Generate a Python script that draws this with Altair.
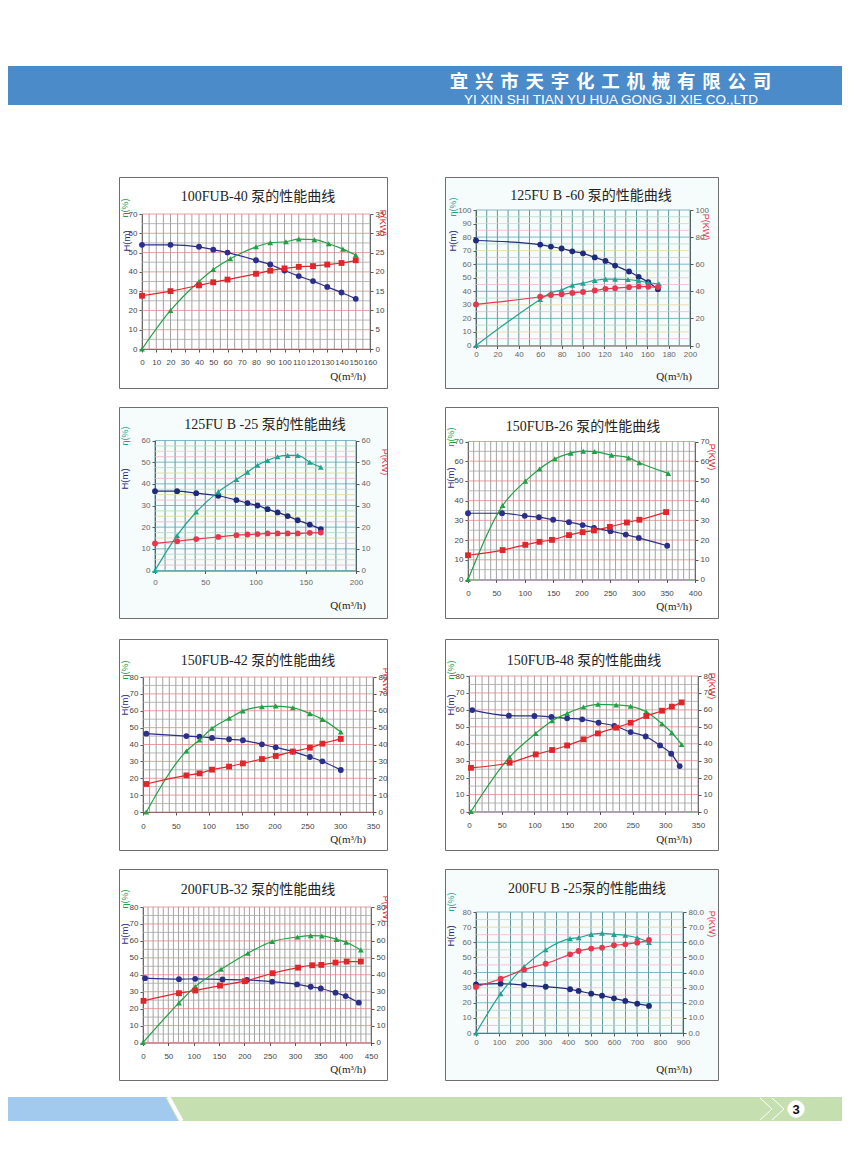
import altair as alt
import pandas as pd

# ---------------- data ----------------
COMPANY_CN = "宜兴市天宇化工机械有限公司"
COMPANY_EN = "YI XIN SHI TIAN YU HUA GONG JI XIE  CO.,LTD"
PAGE_NO = "3"
TITLES = ["100FUB-40 泵的性能曲线", "125FU B -60  泵的性能曲线",
          "125FU B -25  泵的性能曲线", "150FUB-26 泵的性能曲线",
          "150FUB-42 泵的性能曲线", "150FUB-48 泵的性能曲线",
          "200FUB-32 泵的性能曲线", "200FU B -25泵的性能曲线"]
LBL_ETA, LBL_H, LBL_P, LBL_Q = "η(%)", "H(m)", "P(KW)", "Q(m³/h)"

# panel 1: 100FUB-40
P1_Q = [0, 20, 40, 50, 60, 80, 90, 100, 110, 120, 130, 140, 150]
P1_H = [54, 54, 53, 51.5, 50, 46, 43.8, 40.7, 37.8, 35.2, 32.2, 29.3, 26]
P1_QE = [0, 20, 40, 50, 62, 80, 90, 101, 110, 121, 131, 141, 150]
P1_E = [0, 20, 35, 41.2, 46.8, 53, 55.1, 55.6, 57, 56.7, 54.6, 51.8, 48.7]
P1_P = [13.8, 15, 16.5, 17.3, 18, 19.5, 20.3, 20.9, 21.3, 21.5, 21.9, 22.3, 23]
# panel 2: 125FUB-60
P2_Q = [0, 60, 70, 80, 90, 100, 111, 121, 130, 143, 152, 161, 170]
P2_H = [77.5, 74.5, 73, 71.6, 69.5, 68, 65, 62.4, 59, 54.6, 50.7, 46.7, 41.6]
P2_QE = [0, 60, 70, 80, 90, 100, 111, 121, 130, 142, 152, 161, 171]
P2_E = [0, 34, 39, 41, 44.5, 46, 48, 49, 49, 48.7, 47.7, 46.3, 45.5]
P2_P = [30.3, 36, 37.2, 37.8, 38.8, 39.5, 40.6, 41.8, 42.3, 43, 43.5, 43.3, 43.1]
# panel 3: 125FUB-25
P3_Q = [0, 22, 41, 63, 81, 92, 102, 112, 122, 132, 142, 154, 165]
P3_H = [36.6, 36.6, 35.7, 34.5, 32.5, 31.1, 30, 28.3, 26.8, 25.1, 23.2, 21.2, 19.1]
P3_E = [0, 16.2, 27, 36.3, 42, 45.4, 48.6, 50.8, 52.5, 53.1, 53.1, 50, 47.7]
P3_P = [12.5, 13.5, 14.5, 15.5, 16.3, 16.6, 16.8, 17.1, 17.1, 17.1, 17.1, 17.4, 17.5]
# panel 4: 150FUB-26
P4_Q = [0, 60, 100, 125, 150, 178, 202, 222, 251, 278, 301, 351]
P4_H = [33.6, 33.6, 32.3, 31.6, 30.3, 29.1, 27.6, 26.2, 24.5, 22.8, 21.1, 17.1]
P4_QE = [0, 61, 101, 126, 153, 181, 203, 223, 253, 283, 302, 353]
P4_E = [0, 37.5, 49.9, 56.1, 61.2, 64.1, 65.1, 64.9, 63.1, 61.7, 59.2, 53.8]
P4_QP = [0, 61, 101, 126, 148, 178, 202, 222, 250, 280, 302, 349]
P4_P = [12.3, 14.9, 17.6, 19.1, 20.1, 22.5, 24, 24.9, 26.7, 28.9, 30.3, 34.2]
# panel 5: 150FUB-42
P5_Q = [5, 66, 86, 105, 131, 152, 181, 202, 228, 254, 273, 301]
P5_H = [46.4, 45, 44.6, 43.9, 43.1, 42.5, 40.1, 38.3, 35.8, 32.6, 30, 24.9]
P5_E = [0, 36.1, 42.7, 49.6, 55.5, 59.9, 62.4, 62.8, 61.8, 58.3, 54.9, 47.4]
P5_P = [16.6, 21.7, 22.9, 25.1, 26.9, 28.8, 31.4, 33.2, 35.8, 38.1, 40.5, 43.3]
# panel 6: 150FUB-48
P6_Q = [5, 61, 100, 126, 150, 173, 198, 222, 247, 270, 292, 309, 322]
P6_H = [59.9, 56.6, 56.4, 55.8, 55, 54.4, 52.4, 50.6, 46.9, 44.3, 39, 34.1, 26.8]
P6_QE = [3, 62, 102, 127, 150, 175, 197, 225, 247, 271, 295, 310, 325]
P6_E = [0, 32.1, 46.1, 53.6, 57.9, 61.7, 63.3, 62.9, 62.1, 58.9, 51.8, 46.5, 39.6]
P6_P = [25.8, 28.8, 33.7, 36.3, 39, 42.6, 46.1, 49.5, 52.4, 56.4, 59.5, 61.9, 64.4]
# panel 7: 200FUB-32
P7_Q = [4, 71, 103, 157, 205, 255, 304, 331, 351, 380, 400, 426]
P7_H = [38, 37.4, 37.6, 37.2, 36.9, 35.9, 34.3, 32.9, 31.9, 29.4, 27.4, 23.5]
P7_QE = [0, 71, 103, 154, 207, 255, 305, 331, 353, 382, 401, 430]
P7_E = [0, 23.4, 33, 43.2, 52.7, 59.6, 62.3, 63.1, 62.9, 60.9, 59.2, 54.6]
P7_QP = [1, 71, 103, 152, 201, 256, 306, 334, 352, 380, 402, 430]
P7_P = [24.6, 29.1, 30.7, 33.6, 36.2, 40.9, 44.2, 45.6, 45.8, 47.2, 47.8, 47.8]
# panel 8: 200FUB-25
P8_Q = [0, 107, 209, 303, 409, 446, 501, 548, 600, 649, 701, 752]
P8_H = [32.2, 32.6, 31.7, 30.6, 28.9, 27.8, 26, 24.7, 22.9, 21.2, 19.4, 17.9]
P8_E = [0, 26, 43.9, 55.1, 62.4, 63, 65.2, 65.9, 65.2, 64.6, 63, 59.9]
P8_P = [30.4, 35.9, 41.9, 45.8, 52, 54.2, 55.8, 56.4, 58, 58.6, 59.7, 61.5]

# axis domains / tick labels
X_MAX = [160, 200, 200, 400, 350, 350, 450, 900]
X_STEP = [10, 20, 50, 50, 50, 50, 50, 100]
XGRID_STEP = [5, 10, 10, 10, 10, 10, 10, 50]
L_MAX = [70, 100, 60, 70, 80, 80, 80, 80]
L_STEP = [10, 10, 10, 10, 10, 10, 10, 10]
R_MAX = [35, 100, 60, 70, 80, 80, 80, 80]
R_STEP = [5, 20, 10, 10, 10, 10, 10, 10]
HGRID_STEP = [5, 5, 2.5, 5, 5, 5, 5, 5]

# ---------------- styling ----------------
SERIF = "Liberation Serif, Noto Sans CJK SC"
SANS = "Liberation Sans, Arial"
ONE = pd.DataFrame({"t": [""]})

STYLE = {
    "A": dict(h="#2b2e8a", e="#22a045", p="#e0262b", bg="white",
              vcol="#8a8a8a", hcols=("#e58686", "#a6a6a6"),
              pshape="square", lab="#444"),
    "B": dict(h="#1f2a7c", e="#1ea493", p="#e8364f", bg="#f6fbfb",
              vcol="#3f7c86", hcols=("#5faab8", "#f0b6c6", "#e3d898", "#b5dcc4"),
              pshape="circle", lab="#666"),
}


def frange(a, b, s):
    out, v = [], a
    while v <= b + 1e-9:
        out.append(round(v, 4))
        v += s
    return out


def make_panel(k, style, W, H, x0, x1, yb, yt, tpos, epos, hpos, ppos, qpos,
               lab_pad, series, rfmt="d"):
    st = STYLE[style]
    xs = alt.Scale(domain=[0, X_MAX[k]], range=[x0, x1], nice=False, zero=False)
    ls = alt.Scale(domain=[0, L_MAX[k]], range=[yb, yt], nice=False, zero=False)
    rs = alt.Scale(domain=[0, R_MAX[k]], range=[yb, yt], nice=False, zero=False)
    common = dict(grid=False, title=None, domainColor="#555", tickColor="#555",
                  tickSize=3, labelColor=st["lab"], labelFont=SANS, labelFontSize=8,
                  labelOverlap=False, labelFlush=False)
    xaxis = alt.Axis(orient="bottom", offset=-(H - yb), values=frange(0, X_MAX[k], X_STEP[k]),
                     format="d", labelPadding=lab_pad, **common)
    laxis = alt.Axis(orient="left", offset=-x0, values=frange(0, L_MAX[k], L_STEP[k]),
                     format="d", labelPadding=2, **common)
    raxis = alt.Axis(orient="right", offset=-(W - x1), values=frange(0, R_MAX[k], R_STEP[k]),
                     format=rfmt, labelPadding=2, **common)

    vv = frange(0, X_MAX[k], XGRID_STEP[k])
    vdf = pd.DataFrame({"v": vv, "c": [st["vcol"]] * len(vv)})
    hv = frange(0, L_MAX[k], HGRID_STEP[k])
    if style == "A":
        hc = [st["hcols"][0] if (v % 10 == 0) else st["hcols"][1] for v in hv]
    else:
        hc = [st["hcols"][i % len(st["hcols"])] for i in range(len(hv))]
    hdf = pd.DataFrame({"v": hv, "c": hc})

    layers = [
        alt.Chart(vdf).mark_rule(strokeWidth=0.8).encode(
            x=alt.X("v:Q", scale=xs, axis=xaxis), y=alt.value(yt), y2=alt.value(yb),
            color=alt.Color("c:N", scale=None)),
        alt.Chart(hdf).mark_rule(strokeWidth=0.8).encode(
            y=alt.Y("v:Q", scale=ls, axis=laxis), x=alt.value(x0), x2=alt.value(x1),
            color=alt.Color("c:N", scale=None)),
    ]
    (qh, h), (qe, e), (qp, p) = series
    specs = [(qh, h, ls, st["h"], "circle", None),
             (qe, e, ls, st["e"], "triangle-up", None),
             (qp, p, rs, st["p"], st["pshape"], raxis)]
    for q, v, sc, col, shp, ax in specs:
        df = pd.DataFrame({"x": q, "y": v})
        layers.append(alt.Chart(df).mark_line(interpolate="monotone", color=col, strokeWidth=1.2).encode(
            x=alt.X("x:Q", scale=xs, axis=None), y=alt.Y("y:Q", scale=sc, axis=ax)))
        layers.append(alt.Chart(df).mark_point(shape=shp, filled=True, size=34, color=col, opacity=1).encode(
            x=alt.X("x:Q", scale=xs, axis=None), y=alt.Y("y:Q", scale=sc, axis=None)))

    def txt(s, pos, size, color, font, angle=0, align="center", weight="normal"):
        return alt.Chart(pd.DataFrame({"t": [s]})).mark_text(
            fontSize=size, color=color, font=font, angle=angle, align=align,
            baseline="middle", fontWeight=weight, clip=True).encode(
            x=alt.value(pos[0]), y=alt.value(pos[1]), text="t:N")

    layers += [
        txt(TITLES[k], tpos, 14, "#222", SERIF),
        txt(LBL_ETA, epos, 9, st["e"], SANS, angle=270),
        txt(LBL_H, hpos, 9.5, st["h"], SANS, angle=270),
        txt(LBL_P, ppos, 9, st["p"], SANS, angle=90),
        txt(LBL_Q, qpos, 11, "#222", SERIF, align="right"),
    ]
    return alt.layer(*layers).resolve_scale(x="independent", y="independent").properties(
        width=W, height=H,
        view=alt.ViewBackground(stroke="#6e6e6e", strokeWidth=1, fill=st["bg"]))


WL, WR, HP = 268, 273, 211

p1 = make_panel(0, "A", WL, HP, 23, 251, 172, 37, (139, 20), (6, 31), (8, 64), (264, 46), (247, 200), 6,
                [(P1_Q, P1_H), (P1_QE, P1_E), (P1_Q, P1_P)])
p2 = make_panel(1, "B", WR, HP, 31, 245, 168.5, 33, (146, 19), (8, 30), (8, 64), (261, 50), (247, 200), 2,
                [(P2_Q, P2_H), (P2_QE, P2_E), (P2_Q, P2_P)])
p3 = make_panel(2, "B", WL, HP, 36, 237, 163.5, 33.5, (146, 18), (6, 29), (6, 72), (266, 55), (247, 199), 5,
                [(P3_Q, P3_H), (P3_Q, P3_E), (P3_Q, P3_P)])
p4 = make_panel(3, "A", WR, HP, 23, 250, 172.5, 34.5, (138, 20), (6, 30), (6, 71), (267, 50), (247, 200), 7,
                [(P4_Q, P4_H), (P4_QE, P4_E), (P4_QP, P4_P)])
p5 = make_panel(4, "A", WL, HP, 24, 254, 173, 38, (139, 22), (6, 31), (6, 66), (267, 42), (247, 201), 7,
                [(P5_Q, P5_H), (P5_Q, P5_E), (P5_Q, P5_P)])
p6 = make_panel(5, "A", WR, HP, 24, 253, 172.5, 37, (139, 22), (6, 31), (6, 66), (267, 47), (247, 201), 7,
                [(P6_Q, P6_H), (P6_QE, P6_E), (P6_QE, P6_P)])
p7 = make_panel(6, "A", WL, HP, 24, 252, 173.5, 38, (139, 21), (6, 30), (6, 65), (267, 40), (247, 201), 7,
                [(P7_Q, P7_H), (P7_QE, P7_E), (P7_QP, P7_P)])
p8 = make_panel(7, "B", WR, HP, 31, 238, 164, 43, (142, 20), (6, 33), (6, 67), (267, 55), (247, 201), 2,
                [(P8_Q, P8_H), (P8_Q, P8_E), (P8_Q, P8_P)], rfmt=".1f")


def blank(w, h):
    return alt.Chart(ONE).mark_rule(opacity=0).encode(
        x=alt.value(1), y=alt.value(1), y2=alt.value(2)).properties(width=w, height=h)


def row(a, b):
    return alt.hconcat(blank(53, HP), a, b, spacing=58, bounds="flush")


# header
BANNER = "#4b8bc9"
chars = pd.DataFrame({"i": list(range(len(COMPANY_CN))), "ch": list(COMPANY_CN)})
header = alt.layer(
    alt.Chart(ONE).mark_rect(color=BANNER).encode(
        x=alt.value(0), x2=alt.value(834), y=alt.value(58), y2=alt.value(97)),
    alt.Chart(chars).mark_text(font="Noto Sans CJK SC", fontSize=18.5, fontWeight="bold",
                               color="white", baseline="middle").encode(
        x=alt.X("i:Q", scale=alt.Scale(domain=[0, 12], range=[451, 754]), axis=None),
        y=alt.value(73.5), text="ch:N"),
    alt.Chart(pd.DataFrame({"t": [COMPANY_EN]})).mark_text(
        font="Liberation Sans", fontSize=13.5, color="white",
        align="center", baseline="middle").encode(x=alt.value(603), y=alt.value(91.5), text="t:N"),
).resolve_scale(x="independent").properties(width=834, height=168)

# footer (band at page y 1097-1121)
FT, FB = 16, 40
FM = (FT + FB) / 2
foot_shape = pd.DataFrame({"yy": [0, 1], "xx": [157, 170]})
footer = alt.layer(
    alt.Chart(ONE).mark_rect(color="#c6dfb1").encode(
        x=alt.value(0), x2=alt.value(834), y=alt.value(FT), y2=alt.value(FB)),
    alt.Chart(foot_shape).mark_area(orient="horizontal", color="#a2c9ee").encode(
        y=alt.Y("yy:Q", scale=alt.Scale(domain=[0, 1], range=[FT, FB]), axis=None),
        x=alt.X("xx:Q", scale=alt.Scale(domain=[0, 834], range=[0, 834]), axis=None),
        x2=alt.value(0)),
    alt.Chart(ONE).mark_rule(color="white", strokeWidth=4).encode(
        x=alt.value(160.5), x2=alt.value(173.5), y=alt.value(FT), y2=alt.value(FB)),
    alt.Chart(ONE).mark_rule(color="white", strokeWidth=1).encode(
        x=alt.value(752), x2=alt.value(764), y=alt.value(FT + 1), y2=alt.value(FM)),
    alt.Chart(ONE).mark_rule(color="white", strokeWidth=1).encode(
        x=alt.value(764), x2=alt.value(752), y=alt.value(FM), y2=alt.value(FB - 1)),
    alt.Chart(ONE).mark_rule(color="white", strokeWidth=1).encode(
        x=alt.value(764), x2=alt.value(776), y=alt.value(FT + 1), y2=alt.value(FM)),
    alt.Chart(ONE).mark_rule(color="white", strokeWidth=1).encode(
        x=alt.value(776), x2=alt.value(764), y=alt.value(FM), y2=alt.value(FB - 1)),
    alt.Chart(ONE).mark_point(shape="circle", filled=True, color="white", size=300, opacity=1).encode(
        x=alt.value(788), y=alt.value(FM)),
    alt.Chart(pd.DataFrame({"t": [PAGE_NO]})).mark_text(
        fontSize=13, fontWeight="bold", color="#111", font=SANS, baseline="middle").encode(
        x=alt.value(788), y=alt.value(FM + 0.5), text="t:N"),
).resolve_scale(x="independent", y="independent").properties(width=834, height=55)

chart = alt.vconcat(header, row(p1, p2), blank(10, 17), row(p3, p4), blank(10, 19),
                    row(p5, p6), blank(10, 17), row(p7, p8), footer,
                    spacing=0).configure_view(stroke=None).properties(
    background="white", padding=0)

chart.save("out.html", embed_options={"renderer": "svg", "actions": False})
